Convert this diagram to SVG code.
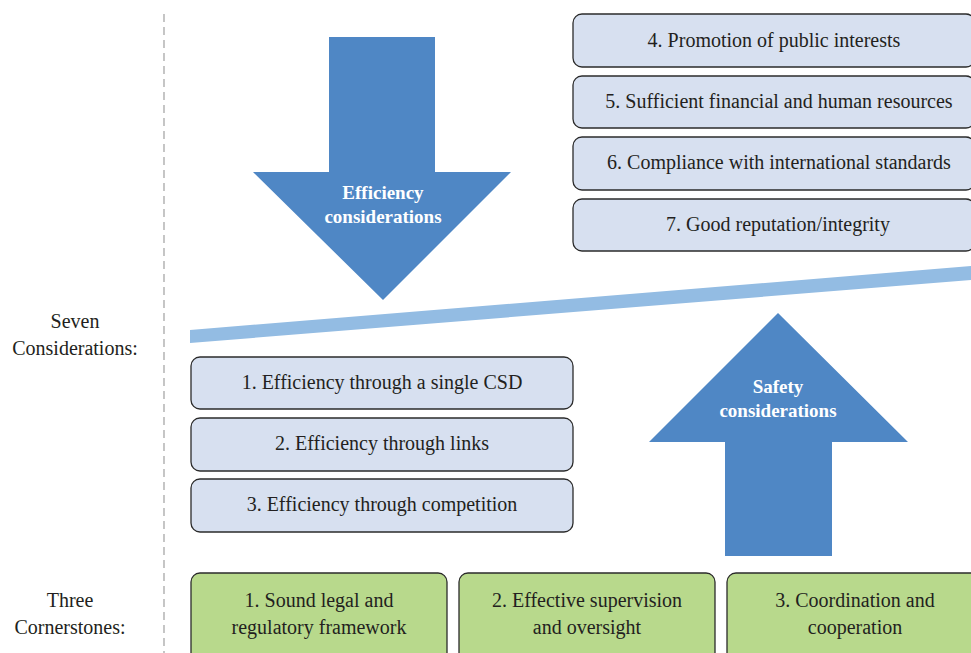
<svg xmlns="http://www.w3.org/2000/svg" width="971" height="653" viewBox="0 0 971 653" font-family="'Liberation Serif', 'Times New Roman', 'DejaVu Serif', serif">
<style>
  text { font-family: 'Liberation Serif', 'Times New Roman', 'DejaVu Serif', serif; fill: #231f20; }
  .lbl { font-size: 20px; text-anchor: middle; }
  .box { fill: #d7e0f0; stroke: #2b2b2b; stroke-width: 1.3; }
  .gbox { fill: #b8d98c; stroke: #2b2b2b; stroke-width: 1.3; }
  .t { font-size: 20px; text-anchor: middle; }
  .at { font-size: 19px; font-weight: bold; text-anchor: middle; fill: #ffffff; }
  .arrow { fill: #4f87c5; }
</style>
<rect width="971" height="653" fill="#ffffff"/>
<line x1="164" y1="14" x2="164" y2="653" stroke="#a0a0a0" stroke-width="1.2" stroke-dasharray="8,5"/>
<g id="side-labels">
  <text class="lbl" x="75" y="328">Seven</text>
  <text class="lbl" x="75" y="355">Considerations:</text>
  <text class="lbl" x="70" y="607">Three</text>
  <text class="lbl" x="70" y="634">Cornerstones:</text>
</g>
<g id="connectors">
  <polygon id="beam" points="190,330 971,266 971,280 190,343" fill="#93bce3"/>
</g>
<g id="efficiency-arrow">
  <polygon class="arrow" points="329,37 435,37 435,172 511,172 383,300 253,172 329,172"/>
  <text class="at" x="383" y="199">Efficiency</text>
  <text class="at" x="383" y="223">considerations</text>
</g>
<g id="safety-arrow">
  <polygon class="arrow" points="778,313 908,442 832,442 832,556 725,556 725,442 649,442"/>
  <text class="at" x="778" y="393">Safety</text>
  <text class="at" x="778" y="417">considerations</text>
</g>
<g id="c4"><rect class="box" x="573" y="14" width="402" height="53" rx="9"/><text class="t" x="774" y="47">4. Promotion of public interests</text></g>
<g id="c5"><rect class="box" x="573" y="76" width="402" height="52" rx="9"/><text class="t" x="779" y="108">5. Sufficient financial and human resources</text></g>
<g id="c6"><rect class="box" x="573" y="137" width="402" height="53" rx="9"/><text class="t" x="779" y="169">6. Compliance with international standards</text></g>
<g id="c7"><rect class="box" x="573" y="199" width="402" height="52" rx="9"/><text class="t" x="778" y="231">7. Good reputation/integrity</text></g>
<g id="c1"><rect class="box" x="191" y="357" width="382" height="52" rx="9"/><text class="t" x="382" y="389">1. Efficiency through a single CSD</text></g>
<g id="c2"><rect class="box" x="191" y="418" width="382" height="53" rx="9"/><text class="t" x="382" y="450">2. Efficiency through links</text></g>
<g id="c3"><rect class="box" x="191" y="479" width="382" height="53" rx="9"/><text class="t" x="382" y="511">3. Efficiency through competition</text></g>
<g id="k1"><rect class="gbox" x="191" y="573" width="256" height="95" rx="9"/><text class="t" x="319" y="607">1. Sound legal and</text><text class="t" x="319" y="634">regulatory framework</text></g>
<g id="k2"><rect class="gbox" x="459" y="573" width="256" height="95" rx="9"/><text class="t" x="587" y="607">2. Effective supervision</text><text class="t" x="587" y="634">and oversight</text></g>
<g id="k3"><rect class="gbox" x="727" y="573" width="256" height="95" rx="9"/><text class="t" x="855" y="607">3. Coordination and</text><text class="t" x="855" y="634">cooperation</text></g>
</svg>
